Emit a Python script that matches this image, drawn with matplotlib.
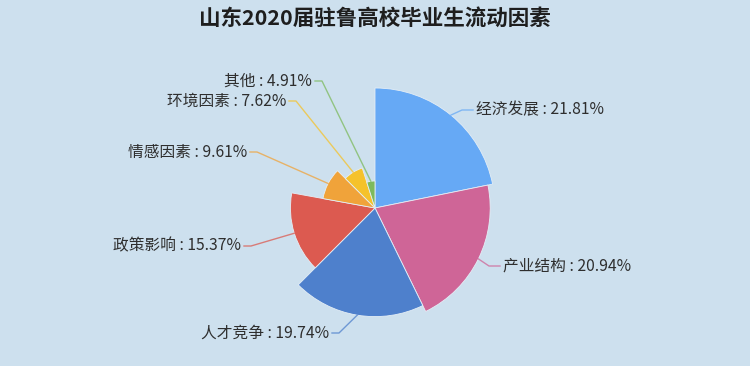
# 山东2020届驻鲁高校毕业生流动因素 - rose (nightingale) chart
import numpy as np
import matplotlib.pyplot as plt
from matplotlib.lines import Line2D

plt.rcParams['font.family'] = ['Noto Sans CJK SC', 'DejaVu Sans']

# data
categories = ['经济发展', '产业结构', '人才竞争', '政策影响', '情感因素', '环境因素', '其他']
values = [21.81, 20.94, 19.74, 15.37, 9.61, 7.62, 4.91]
colors = ['#66a9f5', '#cf6597', '#4e80cc', '#dc5a50', '#f0a33a', '#f5c22b', '#7dba5e']

# label layout (pixel position from top-left, alignment)
label_pos = [(476, 110, 'left'), (503, 266, 'left'), (329, 333, 'right'),
             (241, 246, 'right'), (247, 152, 'right'), (286, 101, 'right'),
             (312, 81, 'right')]

bg = '#cde0ee'
W, H = 750, 366
fig = plt.figure(figsize=(7.5, 3.66), dpi=100, facecolor=bg)

# polar axes centred at (375, 208) px, radius 156 px
cx, cy, R = 375, 208, 156
ax = fig.add_axes([(cx - R) / W, (H - cy - R) / H, 2 * R / W, 2 * R / H],
                  projection='polar')
ax.set_theta_zero_location('N')
ax.set_theta_direction(-1)
ax.set_ylim(0, max(values) * R / 120)
ax.axis('off')

total = sum(values)
widths = np.array(values) / total * 2 * np.pi
starts = np.concatenate([[0], np.cumsum(widths)[:-1]])
ax.bar(starts, values, width=widths, align='edge', color=colors,
       edgecolor='#e4eef6', linewidth=0.6)

fig.canvas.draw()
for cat, v, c, s, w, (tx, ty, ha) in zip(categories, values, colors, starts, widths, label_pos):
    mid = s + w / 2
    px, py = ax.transData.transform((mid, v))
    ty_d = H - ty
    if ha == 'left':
        bx, ex = tx - 14, tx - 3
    else:
        bx, ex = tx + 10, tx + 3
    fig.add_artist(Line2D([px, bx, ex], [py, ty_d, ty_d], transform=None,
                          color=c, alpha=0.75, linewidth=1))
    fig.text(tx / W, ty_d / H, f'{cat} : {v:.2f}%', ha=ha, va='center',
             fontsize=11.3, color='#2e2e2e')

fig.text(0.5, (H - 18) / H, '山东2020届驻鲁高校毕业生流动因素', ha='center', va='center',
         fontsize=15.5, fontweight='bold', color='#1e1e1e')

fig.savefig('out.png', dpi=100, facecolor=bg)
